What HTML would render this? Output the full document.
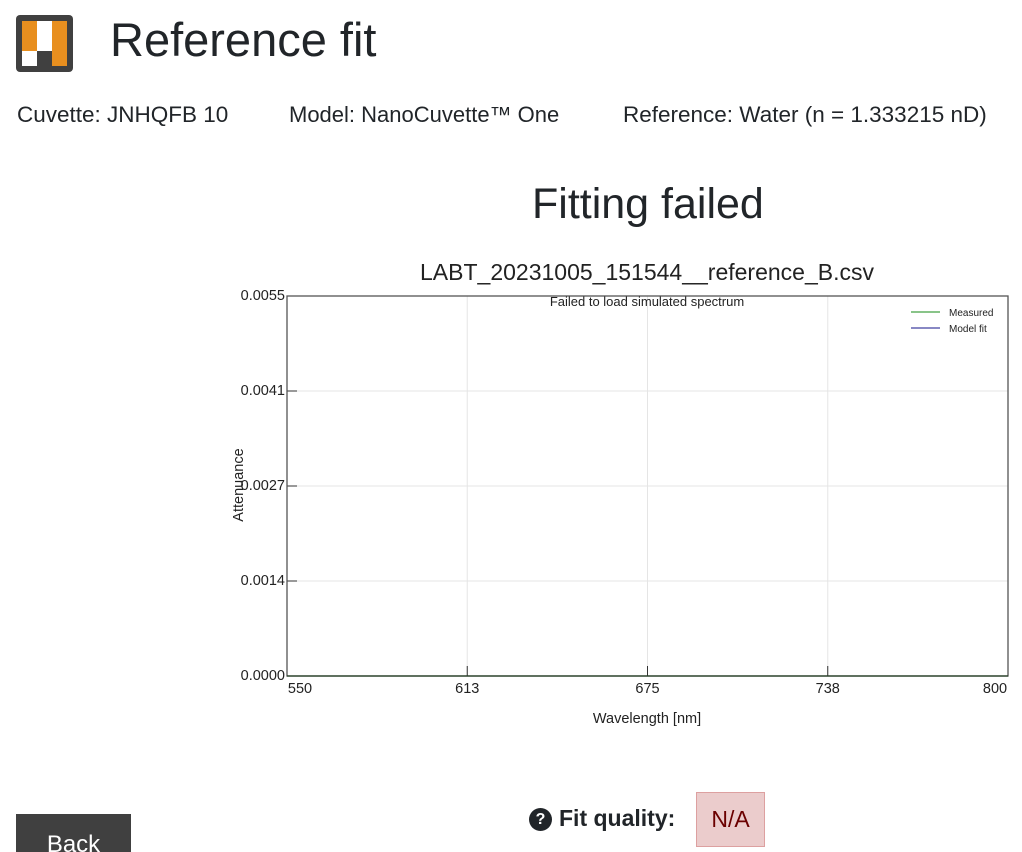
<!DOCTYPE html>
<html><head><meta charset="utf-8"><style>
html,body{margin:0;width:1022px;height:852px;overflow:hidden;background:#fff;font-family:"Liberation Sans",sans-serif;color:#212529;position:relative}
.a{position:absolute;white-space:nowrap}
</style></head><body>
<div class="a" style="left:16px;top:15px;width:57px;height:57px;background:#404040;border-radius:4px">
<div style="position:absolute;left:6px;top:6px;width:15px;height:45px;background:#e88f1f"></div>
<div style="position:absolute;left:21px;top:6px;width:15px;height:30px;background:#fff"></div>
<div style="position:absolute;left:6px;top:36px;width:15px;height:15px;background:#fff"></div>
<div style="position:absolute;left:36px;top:6px;width:15px;height:45px;background:#e88f1f"></div>
</div>
<div class="a" style="left:110px;top:12px;font-size:47px">Reference fit</div>
<div class="a" style="left:17px;top:102px;font-size:22.5px">Cuvette: JNHQFB 10</div>
<div class="a" style="left:289px;top:102px;font-size:22px">Model: NanoCuvette™ One</div>
<div class="a" style="left:623px;top:102px;font-size:22.5px">Reference: Water (n = 1.333215 nD)</div>
<div class="a" style="left:532px;top:180px;font-size:43px">Fitting failed</div>
<svg class="a" style="left:0;top:0" width="1022" height="852" id="chart"></svg>
<div class="a" style="left:16px;top:814px;width:115px;height:50px;background:#404040;color:#fff;font-size:24px;text-align:center;line-height:62px">Back</div>
<div class="a" style="left:529px;top:808px;width:23px;height:23px;border-radius:50%;background:#212529;color:#fff;font-size:16px;font-weight:bold;text-align:center;line-height:23px">?</div>
<div class="a" style="left:559px;top:805px;font-size:23px;font-weight:bold">Fit quality:</div>
<div class="a" style="left:696px;top:792px;width:67px;height:53px;background:#ebcccc;border:1px solid #dda0a0;color:#6b0000;font-size:23px;text-align:center;line-height:53px">N/A</div>
<script>
const xTicks=[550,613,675,738,800];
const yTicks=[0,0.0014,0.0027,0.0041,0.0055];
const yTickLabels=["0.0000","0.0014","0.0027","0.0041","0.0055"];
const wavelengths=[550,600,650,700,750,800];
const measured=[0,0,0,0,0,0];
const modelFit=[0,0,0,0,0,0];
const L=287,R=1008,T=296,B=676;
const xs=v=>L+(v-550)/(800-550)*(R-L);
const ys=v=>B-(v/0.0055)*(B-T);
const svg=document.getElementById('chart');
const NS='http://www.w3.org/2000/svg';
function mk(t,a,txt){const e=document.createElementNS(NS,t);for(const k in a)e.setAttribute(k,a[k]);if(txt!==undefined)e.textContent=txt;svg.appendChild(e);return e;}
const ttl=mk('text',{x:647,y:280,'text-anchor':'middle','font-size':23,fill:'#222'},'LABT_20231005_151544__reference_B.csv');

const yTickVals=[0,0.0055*0.25,0.0055*0.5,0.0055*0.75,0.0055];
xTicks.forEach((v,i)=>{const x=L+i*(R-L)/4;
 const g=mk('line',{x1:x,x2:x,y1:T,y2:B,stroke:'#e5e5e5'});
 const tk=mk('line',{x1:x,x2:x,y1:B-10,y2:B,stroke:'#333'});
 const t=mk('text',{x:i==0?x+13:i==4?x-13:x,y:B+17,'text-anchor':'middle','font-size':14.5,fill:'#222'},String(v));});
yTickVals.forEach((v,i)=>{const y=ys(v);
 const g=mk('line',{x1:L,x2:R,y1:y,y2:y,stroke:'#e5e5e5'});
 const tk=mk('line',{x1:L,x2:L+10,y1:y,y2:y,stroke:'#333'});
 const t=mk('text',{x:L-2,y:y+4,'text-anchor':'end','font-size':14.5,fill:'#222'},yTickLabels[i]);});
const fr=mk('rect',{x:L,y:T,width:R-L,height:B-T,fill:'none',stroke:'#555','stroke-width':1.3});
const pts=a=>a.map((v,i)=>xs(wavelengths[i])+','+ys(v)).join(' ');
const m=mk('polyline',{points:pts(measured),fill:'none',stroke:'#1a9a1a','stroke-width':1.2});
const f=mk('polyline',{points:pts(modelFit),fill:'none',stroke:'#10108a','stroke-width':0.8,'stroke-opacity':0.5});
const ax=mk('line',{x1:L,x2:R,y1:B,y2:B,stroke:'#222'});
const msg=mk('text',{x:647,y:306,'text-anchor':'middle','font-size':13,fill:'#222'},'Failed to load simulated spectrum');
const l1=mk('line',{x1:911,x2:940,y1:312,y2:312,stroke:'#138a13'});
const t1=mk('text',{x:949,y:316,'font-size':10,fill:'#222'},'Measured');
const l2=mk('line',{x1:911,x2:940,y1:328,y2:328,stroke:'#10108a'});
const t2=mk('text',{x:949,y:332,'font-size':10,fill:'#222'},'Model fit');
const xt=mk('text',{x:647,y:723,'text-anchor':'middle','font-size':14.5,fill:'#222'},'Wavelength [nm]');
const yt=mk('text',{x:243,y:485,'text-anchor':'middle','font-size':14.5,fill:'#222',transform:'rotate(-90 243 485)'},'Attenuance');
</script>
</body></html>
